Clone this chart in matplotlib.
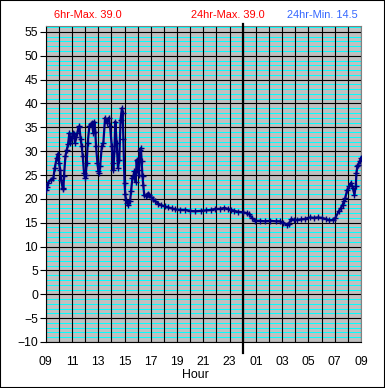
import numpy as np
import matplotlib
matplotlib.use("Agg")
import matplotlib.pyplot as plt
from matplotlib.patches import Rectangle

# ---- データ（09時からの経過時間 [h]、気温） ----
hours = [0.00, 0.10, 0.18, 0.38, 0.58, 0.69, 0.84, 0.94, 1.02, 1.10, 1.17, 1.29, 1.35, 1.39,
         1.50, 1.60, 1.70, 1.80, 1.88, 1.98, 2.08, 2.16, 2.23, 2.32, 2.41, 2.50, 2.56, 2.66,
         2.74, 2.82, 2.92, 2.99, 3.05, 3.12, 3.20, 3.32, 3.42, 3.50, 3.63, 3.70, 3.78, 3.83,
         3.94, 4.01, 4.08, 4.14, 4.27, 4.39, 4.52, 4.65, 4.80, 4.90, 5.03, 5.10, 5.15, 5.23,
         5.30, 5.40, 5.50, 5.60, 5.70, 5.80, 5.86, 5.91, 6.00, 6.05, 6.10, 6.17, 6.30, 6.42,
         6.50, 6.60, 6.67, 6.75, 6.85, 6.92, 7.00, 7.10, 7.17, 7.25, 7.30, 7.37, 7.42, 7.50,
         7.60, 7.70, 7.80, 7.90, 8.05, 8.15, 8.35, 8.55, 8.80, 9.05, 9.30, 9.60, 9.85, 10.2,
         10.6, 11.0, 11.4, 11.8, 12.2, 12.6, 12.9, 13.3, 13.6, 13.85, 14.1, 14.35, 14.6, 15.0,
         15.3, 15.5, 15.7, 15.95, 16.3, 16.7, 17.1, 17.5, 17.8, 18.1, 18.35, 18.5, 18.7, 18.9,
         19.1, 19.4, 19.7, 20.1, 20.4, 20.7, 21.0, 21.3, 21.6, 21.85, 22.05, 22.3, 22.45, 22.6,
         22.7, 22.8, 22.95, 23.1, 23.25, 23.37, 23.5, 23.6, 23.65, 23.72, 23.8, 23.9, 24.0]
temps = [21.9, 22.5, 23.4, 24.0, 24.3, 26.5, 28.6, 29.5, 27.5, 26.1, 24.0, 22.3, 22.0, 24.7,
         28.9, 30.3, 31.4, 33.8, 31.8, 32.8, 33.8, 33.5, 31.8, 33.0, 33.8, 35.0, 35.2, 32.5,
         31.0, 28.9, 25.4, 24.4, 25.0, 27.5, 31.8, 35.2, 35.6, 35.9, 33.8, 36.2, 34.0, 31.0,
         27.5, 25.8, 25.5, 26.8, 31.0, 31.8, 37.0, 35.9, 37.0, 35.2, 31.0, 27.5, 26.1, 30.0,
         36.2, 31.8, 26.5, 28.2, 36.6, 39.0, 38.0, 32.5, 23.4, 21.0, 19.8, 19.2, 18.8, 19.5,
         21.6, 24.4, 24.7, 25.8, 23.5, 28.2, 26.0, 25.1, 30.3, 30.6, 27.9, 24.7, 23.0, 20.8,
         20.6, 20.9, 21.1, 20.9, 20.3, 19.9, 19.5, 19.0, 18.7, 18.4, 18.2, 18.0, 17.8, 17.7,
         17.7, 17.5, 17.4, 17.5, 17.6, 17.7, 17.9, 17.9, 18.1, 17.9, 17.7, 17.5, 17.3, 17.2,
         17.0, 16.8, 16.0, 15.4, 15.4, 15.3, 15.4, 15.3, 15.3, 15.0, 14.6, 14.8, 15.8, 15.6,
         15.6, 15.7, 15.8, 16.1, 16.0, 16.1, 16.0, 15.8, 15.5, 15.6, 16.0, 17.4, 18.0, 18.8,
         19.5, 20.2, 21.9, 22.6, 23.4, 22.3, 20.9, 22.6, 25.4, 26.8, 27.2, 27.9, 28.6]

tick_hours = [0, 2, 4, 6, 8, 10, 12, 14, 16, 18, 20, 22, 24]
tick_labels = ["09", "11", "13", "15", "17", "19", "21", "23", "01", "03", "05", "07", "09"]
y_ticks = list(range(-10, 56, 5))
midnight = 15
header = [("6hr-Max. 39.0", "#FF0000"), ("24hr-Max. 39.0", "#FF0000"), ("24hr-Min. 14.5", "#3366FF")]

plt.rcParams['font.family'] = ['Liberation Sans', 'DejaVu Sans']

fig = plt.figure(figsize=(3.85, 3.88), dpi=100)
ax = fig.add_axes([0.1187, 0.1186, 0.819, 0.8146])
ax.set_facecolor("#C0C0C0")
ax.set_xlim(0, 24)
ax.set_ylim(-10, 56.25)

# 補助線（シアン）・主線（黒）
for v in np.arange(-9, 57, 1):
    if v % 5 != 0:
        ax.axhline(v, color="#00FFFF", lw=0.7, zorder=1)
for v in y_ticks:
    ax.axhline(v, color="black", lw=0.8, zorder=2)
for h in range(0, 25):
    ax.axvline(h, color="black", lw=0.8, zorder=2)
ax.axvline(midnight, ymin=-0.035, ymax=1.006, color="black", lw=1.6, zorder=3, clip_on=False)

ax.plot(hours, temps, color="#000080", lw=1.6, marker="+", ms=4, mew=1.0, zorder=4)

ax.set_yticks(y_ticks)
ax.set_xticks(tick_hours)
ax.set_xticklabels(tick_labels)
ax.tick_params(axis="y", length=4, width=0.8, pad=1.5, labelsize=8.7)
ax.tick_params(axis="x", length=0, pad=10, labelsize=8.7)
for s in ["left", "bottom"]:
    ax.spines[s].set_color("black")
for s in ["top", "right"]:
    ax.spines[s].set_color("#808080")

fig.text(195 / 385, 1 - 375 / 388, "Hour", ha="center", va="center", fontsize=8.9)
fig.text(54 / 385, 1 - 15 / 388, header[0][0], color=header[0][1], ha="left", va="center", fontsize=7.9)
fig.text(228 / 385, 1 - 15 / 388, header[1][0], color=header[1][1], ha="center", va="center", fontsize=7.9)
fig.text(358 / 385, 1 - 15 / 388, header[2][0], color=header[2][1], ha="right", va="center", fontsize=7.9)

fig.patches.append(Rectangle((0, 0), 1, 1, transform=fig.transFigure, fill=False,
                             edgecolor="black", lw=1.5))

fig.savefig("out.png", dpi=100)
